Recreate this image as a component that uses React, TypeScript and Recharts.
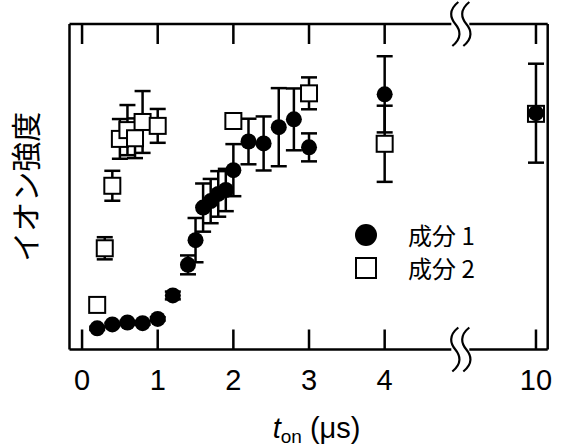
import React from 'react';
import { ScatterChart, Scatter, XAxis, YAxis, ErrorBar, ReferenceDot, Legend } from 'recharts';

// Component 1 (filled circles)
const tOn1 = [0.2, 0.4, 0.6, 0.8, 1.0, 1.2, 1.4, 1.5, 1.6, 1.7, 1.8, 1.9, 2.0, 2.2, 2.4, 2.6, 2.8, 3.0, 4.0, 10];
const int1 = [6.5, 7.7, 8.3, 8.1, 9.4, 16.6, 26.0, 33.6, 43.6, 45.6, 47.8, 49.0, 55.1, 63.9, 63.3, 68.3, 70.7, 62.1, 78.4, 72.6];
const err1 = [0.5, 0.5, 0.5, 0.5, 0.5, 1.2, 2.9, 6.8, 7.4, 6.8, 7.0, 6.5, 8.0, 7.0, 8.3, 12.0, 9.5, 4.3, 11.7, 15.2];

// Component 2 (open squares)
const tOn2 = [0.2, 0.3, 0.4, 0.5, 0.6, 0.7, 0.8, 1.0, 2.0, 3.0, 4.0, 10];
const int2 = [13.7, 31.1, 50.3, 64.7, 67.4, 64.9, 69.9, 68.7, 70.2, 78.7, 63.2, 72.4];
const err2 = [0.5, 3.4, 4.6, 6.1, 7.7, 6.1, 9.5, 5.2, 0.5, 4.9, 11.7, 0.5];

const tickValues = [0, 1, 2, 3, 4, 10];
const seriesNames = ['成分 1', '成分 2'];
const xLabelMain = 't';
const xLabelSub = 'on';
const xLabelUnit = ' (μs)';
const yLabel = 'イオン強度';

// broken axis: values beyond the break are compressed
const breakAt = 5;
const compress = 5;
const toAxis = (t: number) => (t > breakAt ? breakAt + (t - breakAt) / compress : t);
const fromAxis = (v: number) => (v > breakAt ? breakAt + (v - breakAt) * compress : v);

const Y_MIN = 0;
const Y_MAX = 100;
const TICK_PX = 20;

const data1 = tOn1.map((t, i) => ({ x: toAxis(t), y: int1[i], err: err1[i] }));
const data2 = tOn2.map((t, i) => ({ x: toAxis(t), y: int2[i], err: err2[i] }));
const axisTicks = tickValues.map(toAxis);

const FONT = "'Liberation Sans', Arial, 'Noto Sans CJK JP', sans-serif";
const JFONT = "'Noto Sans CJK JP', 'Liberation Sans', sans-serif";

const Circle = (props: any) => <circle cx={props.cx} cy={props.cy} r={8} fill="#000" />;
const Square = (props: any) => (
  <rect x={props.cx - 8} y={props.cy - 8} width={16} height={16} fill="#fff" stroke="#000" strokeWidth={2} />
);

// inward tick marks at the frame edges
const TickUp = (props: any) => (
  <g>
    <rect x={props.cx - 1.25} y={props.cy - TICK_PX} width={2.5} height={TICK_PX} fill="#000" />
  </g>
);
const TickDown = (props: any) => (
  <g>
    <rect x={props.cx - 1.25} y={props.cy} width={2.5} height={TICK_PX} fill="#000" />
  </g>
);

const Squiggle = (props: any) => {
  const { cx, cy } = props;
  const path = (x: number) =>
    `M ${x + 3} ${cy - 22} C ${x - 7} ${cy - 14}, ${x - 5} ${cy - 6}, ${x} ${cy} C ${x + 5} ${cy + 6}, ${x + 7} ${cy + 14}, ${x - 3} ${cy + 22}`;
  return (
    <g>
      <rect x={cx - 9} y={cy - 3} width={18} height={6} fill="#fff" />
      <path d={path(cx - 5)} fill="none" stroke="#000" strokeWidth={2.2} />
      <path d={path(cx + 6)} fill="none" stroke="#000" strokeWidth={2.2} />
    </g>
  );
};

const XLabel = (props: any) => {
  const vb = props.viewBox || { x: 0, y: 0, width: 0, height: 0 };
  const cx = vb.x + vb.width / 2 + 8;
  const y = vb.y + 88;
  return (
    <text x={cx} y={y} textAnchor="middle" fontFamily={FONT} fontSize={29} fill="#000">
      <tspan fontStyle="italic">{xLabelMain}</tspan>
      <tspan fontSize={19} dy={5}>{xLabelSub}</tspan>
      <tspan dy={-5}>{xLabelUnit}</tspan>
    </text>
  );
};

const LegendContent = () => (
  <div style={{ fontFamily: JFONT, fontSize: 24, color: '#000' }}>
    {seriesNames.map((name, i) => (
      <div key={name} style={{ display: 'flex', alignItems: 'center', height: 33 }}>
        <svg width={24} height={24} style={{ marginRight: 30 }}>
          {i === 0 ? (
            <circle cx={12} cy={12} r={11} fill="#000" />
          ) : (
            <rect x={2} y={2} width={20} height={20} fill="#fff" stroke="#000" strokeWidth={2} />
          )}
        </svg>
        <span style={{ lineHeight: '24px' }}>{name}</span>
      </div>
    ))}
  </div>
);

export default function App() {
  return (
    <div style={{ position: 'absolute', left: 0, top: 0, background: '#fff' }}>
      <ScatterChart width={563} height={447} margin={{ top: 23, right: 14.3, bottom: 37.5, left: 68.5 }}>
        <XAxis
          type="number"
          dataKey="x"
          domain={[-0.166, 6.155]}
          ticks={axisTicks}
          interval={0}
          allowDataOverflow
          tickSize={0}
          tickMargin={19.5}
          tickLine={false}
          tickFormatter={(v: number) => String(Math.round(fromAxis(v)))}
          height={60}
          axisLine={{ stroke: '#000', strokeWidth: 2.5 }}
          tick={{ fill: '#000', fontSize: 29, fontFamily: FONT }}
          label={{ content: XLabel }}
        />
        <XAxis
          xAxisId="top"
          orientation="top"
          type="number"
          dataKey="x"
          domain={[-0.166, 6.155]}
          ticks={axisTicks}
          interval={0}
          allowDataOverflow
          tickLine={false}
          height={1}
          axisLine={{ stroke: '#000', strokeWidth: 2.5 }}
          tick={false}
        />
        <YAxis
          type="number"
          dataKey="y"
          domain={[Y_MIN, Y_MAX]}
          width={1}
          tick={false}
          tickLine={false}
          axisLine={{ stroke: '#000', strokeWidth: 2.5 }}
          label={{
            value: yLabel,
            angle: -90,
            position: 'left',
            offset: 42,
            style: { fontFamily: JFONT, fontSize: 30, fill: '#000', textAnchor: 'middle' },
          }}
        />
        <YAxis
          yAxisId="right"
          orientation="right"
          type="number"
          domain={[Y_MIN, Y_MAX]}
          width={1}
          tick={false}
          tickLine={false}
          axisLine={{ stroke: '#000', strokeWidth: 2.5 }}
        />
        <Scatter data={data2} shape={Square} isAnimationActive={false} name={seriesNames[1]}>
          <ErrorBar dataKey="err" direction="y" width={8} strokeWidth={2.5} stroke="#000" />
        </Scatter>
        <Scatter data={data1} shape={Circle} isAnimationActive={false} name={seriesNames[0]}>
          <ErrorBar dataKey="err" direction="y" width={8} strokeWidth={2.5} stroke="#000" />
        </Scatter>
        <ReferenceDot x={breakAt} y={Y_MAX} ifOverflow="visible" shape={Squiggle} />
        <ReferenceDot x={breakAt} y={Y_MIN} ifOverflow="visible" shape={Squiggle} />
        <ReferenceDot x={axisTicks[0]} y={Y_MIN} ifOverflow="visible" shape={TickUp} />
        <ReferenceDot x={axisTicks[1]} y={Y_MIN} ifOverflow="visible" shape={TickUp} />
        <ReferenceDot x={axisTicks[2]} y={Y_MIN} ifOverflow="visible" shape={TickUp} />
        <ReferenceDot x={axisTicks[3]} y={Y_MIN} ifOverflow="visible" shape={TickUp} />
        <ReferenceDot x={axisTicks[4]} y={Y_MIN} ifOverflow="visible" shape={TickUp} />
        <ReferenceDot x={axisTicks[5]} y={Y_MIN} ifOverflow="visible" shape={TickUp} />
        <ReferenceDot x={axisTicks[0]} y={Y_MAX} ifOverflow="visible" shape={TickDown} />
        <ReferenceDot x={axisTicks[1]} y={Y_MAX} ifOverflow="visible" shape={TickDown} />
        <ReferenceDot x={axisTicks[2]} y={Y_MAX} ifOverflow="visible" shape={TickDown} />
        <ReferenceDot x={axisTicks[3]} y={Y_MAX} ifOverflow="visible" shape={TickDown} />
        <ReferenceDot x={axisTicks[4]} y={Y_MAX} ifOverflow="visible" shape={TickDown} />
        <ReferenceDot x={axisTicks[5]} y={Y_MAX} ifOverflow="visible" shape={TickDown} />
        <Legend
          layout="vertical"
          align="center"
          verticalAlign="middle"
          content={LegendContent}
          wrapperStyle={{ position: 'absolute', left: 354, top: 218, width: 160 }}
        />
      </ScatterChart>
    </div>
  );
}
